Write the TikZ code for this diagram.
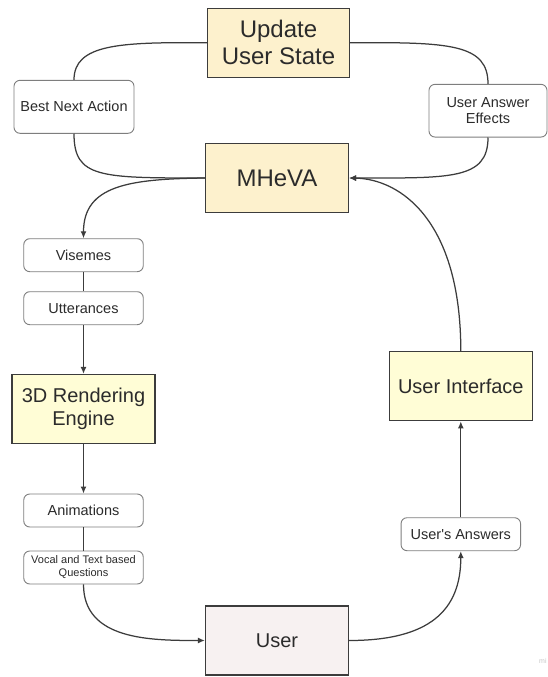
\documentclass[tikz,border=0pt]{standalone}
\usepackage{fontspec}
\setmainfont{Liberation Sans}
\usetikzlibrary{arrows.meta}
\definecolor{edgec}{HTML}{3C3C3C}
\definecolor{txtc}{HTML}{2B2B2B}
\definecolor{beige}{HTML}{FDF1CD}
\definecolor{lyel}{HTML}{FFFDD6}
\definecolor{upink}{HTML}{F7F1F1}
\definecolor{rbord}{HTML}{7E7E7E}
\begin{document}
\begin{tikzpicture}[x=1pt,y=-1pt,
  bigbox/.style={draw=edgec, line width=1.3pt, minimum width=143pt, minimum height=69pt, inner sep=0pt, align=center, text=txtc},
  pill/.style={draw=rbord, line width=0.9pt, rounded corners=6pt, fill=white, minimum width=119.5pt, minimum height=33pt, inner sep=0pt, align=center, text=txtc, font=\fontsize{14.5}{16.5}\selectfont},
  conn/.style={draw=edgec, line width=1.25pt},
  arr/.style={conn, -{Latex[length=7pt,width=6pt]}}]
\useasboundingbox (0,0) rectangle (548,677);
% big boxes
\node[bigbox, fill=beige, minimum width=142pt, font=\fontsize{24}{27}\selectfont] (upd) at (278.5,42.8) {Update\\User State};
\node[bigbox, fill=beige, font=\fontsize{24}{27}\selectfont] (mheva) at (277,178) {MHeVA};
\node[bigbox, fill=lyel, font=\fontsize{20}{23}\selectfont] (eng) at (83.5,409) {3D Rendering\\Engine};
\node[bigbox, fill=lyel, font=\fontsize{20}{23}\selectfont] (ui) at (460.8,386.2) {User Interface};
\node[bigbox, fill=upink, font=\fontsize{20}{23}\selectfont] (usr) at (277,640.5) {User};
% rounded label boxes
\node[pill, minimum width=120pt, minimum height=53pt] (bna) at (74,106.8) {Best Next Action};
\node[pill, minimum width=118pt, minimum height=52.7pt] (uae) at (488,110.7) {User Answer\\Effects};
\node[pill] (vis) at (83.5,255.2) {Visemes};
\node[pill] (utt) at (83.5,308.2) {Utterances};
\node[pill] (ani) at (83.5,510.5) {Animations};
\node[pill, font=\fontsize{11}{13}\selectfont] (voc) at (83.5,567.5) {Vocal and Text based\\Questions};
\node[pill] (ua) at (460.8,534.2) {User\textquotesingle s Answers};
% watermark
\node[text=gray!45, font=\fontsize{7}{8}\selectfont, anchor=west, inner sep=0pt] (wm) at (539,661) {mi};
% connectors
\draw[conn] (upd.west) .. controls (120,42) and (74,44) .. (bna.north);
\draw[conn] (bna.south) .. controls (74,178) and (100,178) .. (mheva.west);
\draw[conn] (upd.east) .. controls (450,42) and (488,44) .. (uae.north);
\draw[arr] (uae.south) .. controls (488,180) and (450,178) .. (mheva.east);
\draw[arr] (ui.north) .. controls (460.8,220) and (400,179) .. (mheva.east);
\draw[arr] (mheva.west) .. controls (130,179) and (83.5,185) .. (vis.north);
\draw[conn] (vis.south) -- (utt.north);
\draw[arr] (utt.south) -- (eng.north);
\draw[arr] (eng.south) -- (ani.north);
\draw[conn] (ani.south) -- (voc.north);
\draw[arr] (voc.south) .. controls (83.5,640) and (150,640.5) .. (usr.west);
\draw[arr] (usr.east) .. controls (430,640.5) and (460.8,610) .. (ua.south);
\draw[arr] (ua.north) -- (ui.south);
\end{tikzpicture}
\end{document}
